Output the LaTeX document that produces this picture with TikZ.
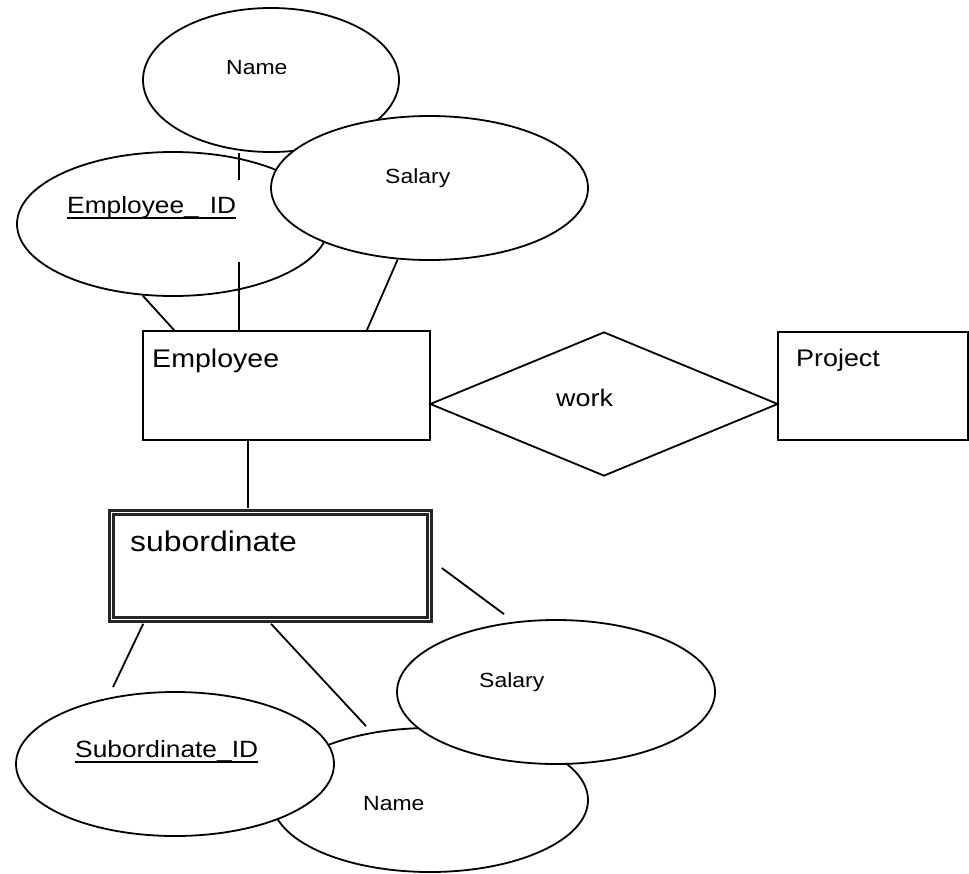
\documentclass[tikz,border=0pt]{standalone}
\usepackage{fontspec}
\setmainfont[FakeStretch=1.12]{Liberation Sans}
\newcommand{\keyul}[1]{\setbox0=\hbox{#1}\leavevmode\rlap{\vrule height -3.8pt depth 5.5pt width \wd0}\box0}
\usetikzlibrary{shapes.geometric,calc}

\tikzset{
  attr/.style={draw, fill=white, ellipse, inner sep=0pt, minimum height=144pt, line width=1.8pt},
  ent/.style={draw, fill=white, rectangle, inner sep=0pt, line width=1.8pt},
  weakent/.style={draw=black!85, rectangle, inner sep=0pt, line width=2.6pt, double=white, double distance=1.4pt},
  conn/.style={line width=1.8pt},
  lbl/.style={anchor=base west, inner sep=0pt},
}

\begin{document}
\begin{tikzpicture}[x=1pt, y=-1pt]%
\useasboundingbox (0,0) rectangle (969,873);%
% Employee attributes
\node[attr, minimum width=256pt] (ename) at (271, 80) {};%
\node[attr, minimum width=312pt] (eid) at (173, 224) {};%
\node[attr, minimum width=317pt] (esal) at (429.5, 188) {};%
% entities and relationship
\node[ent, minimum width=287pt, minimum height=109pt] (employee) at (286.5, 385.5) {};%
\node[ent, minimum width=190pt, minimum height=108pt] (project) at (873, 386) {};%
\node[draw, diamond, inner sep=0pt, line width=1.8pt, minimum width=348pt, minimum height=144pt] (work) at (604, 404) {};%
\node[weakent, minimum width=318pt, minimum height=107pt] (subord) at (270.5, 566) {};%
% subordinate attributes
\node[attr, minimum width=316pt] (sname) at (430, 800) {};%
\node[attr, minimum width=318pt] (sid) at (175, 764) {};%
\node[attr, minimum width=318pt] (ssal) at (556, 692) {};%
% connectors
\coordinate (nl) at (239, 0);%
\coordinate (sl) at (248, 0);%
\draw[conn] (ename.south -| nl) -- (employee.north -| nl);%
\draw[conn] (eid.247) -- ($(employee.north west)+(32,0)$);%
\draw[conn] (esal.246) -- ($(employee.north east)+(-64,0)$);%
\draw[conn, shorten >=3pt] (employee.south -| sl) -- (subord.north -| sl);%
\draw[conn] ($(subord.south west)+(33,3)$) -- ($(sid.north)+(-62,-4)$);%
\draw[conn] ($(subord.south)+(0.5,3)$) -- ($(sname.north)+(-64,-1)$);%
\draw[conn] ($(subord.east)+(11,2)$) -- ($(ssal.north)+(-52,-5)$);%
% labels
\node[fill=white, anchor=north west, inner xsep=3pt, inner ysep=3pt, text width=180pt, align=left, text height=30pt, text depth=46pt] (eid-t) at (64, 180) {\fontsize{23.5pt}{23.5pt}\selectfont\keyul{Employee\_\hspace{11pt}ID}};%
\node[lbl] (ename-t) at (226, 74) {\fontsize{20.5pt}{20.5pt}\selectfont Name};%
\node[lbl] (esal-t) at (385, 183) {\fontsize{20.5pt}{20.5pt}\selectfont Salary};%
\node[lbl] (employee-t) at (152, 367) {\fontsize{25.5pt}{25.5pt}\selectfont Employee};%
\node[lbl] (project-t) at (796, 366) {\fontsize{24pt}{24pt}\selectfont Project};%
\node[lbl] (work-t) at (556, 406) {\fontsize{24pt}{24pt}\selectfont work};%
\node[lbl] (subord-t) at (130, 551) {\fontsize{28.5pt}{28.5pt}\selectfont subordinate};%
\node[lbl] (ssal-t) at (479, 687) {\fontsize{20.5pt}{20.5pt}\selectfont Salary};%
\node[lbl] (sid-t) at (75, 757) {\fontsize{23.5pt}{23.5pt}\selectfont\keyul{Subordinate\_ID}};%
\node[lbl] (sname-t) at (363, 810) {\fontsize{20.5pt}{20.5pt}\selectfont Name};%
\end{tikzpicture}
\end{document}
